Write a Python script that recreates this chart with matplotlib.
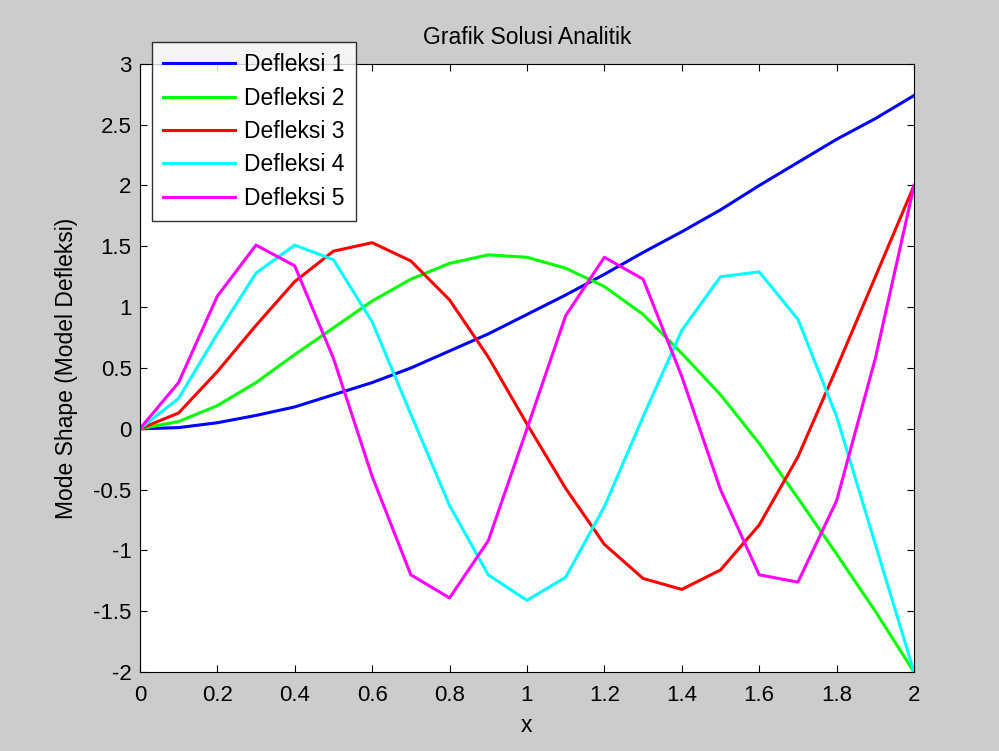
"""
Grafik solusi analitik - mode shape defleksi
"""
import matplotlib
matplotlib.use('Agg')
import matplotlib.pyplot as plt

plt.rcParams['font.family'] = ['Liberation Sans', 'DejaVu Sans']

# data
x = [0, 0.1, 0.2, 0.3, 0.4, 0.5, 0.6, 0.7, 0.8, 0.9, 1.0,
     1.1, 1.2, 1.3, 1.4, 1.5, 1.6, 1.7, 1.8, 1.9, 2.0]
defleksi1 = [0, 0.01, 0.05, 0.11, 0.18, 0.28, 0.38, 0.50, 0.64, 0.78, 0.94,
             1.10, 1.27, 1.45, 1.62, 1.80, 2.00, 2.19, 2.38, 2.55, 2.74]
defleksi2 = [0, 0.06, 0.19, 0.38, 0.61, 0.83, 1.05, 1.23, 1.36, 1.43, 1.41,
             1.32, 1.17, 0.94, 0.62, 0.28, -0.12, -0.57, -1.03, -1.5, -2.0]
defleksi3 = [0, 0.13, 0.47, 0.85, 1.21, 1.46, 1.53, 1.38, 1.06, 0.59, 0.04,
             -0.49, -0.95, -1.23, -1.32, -1.16, -0.79, -0.23, 0.5, 1.25, 2.0]
defleksi4 = [0, 0.25, 0.78, 1.28, 1.51, 1.39, 0.88, 0.12, -0.63, -1.2, -1.41,
             -1.22, -0.64, 0.1, 0.81, 1.25, 1.29, 0.9, 0.1, -0.95, -2.0]
defleksi5 = [0, 0.38, 1.09, 1.51, 1.34, 0.58, -0.39, -1.2, -1.39, -0.92, 0.0,
             0.93, 1.41, 1.23, 0.43, -0.5, -1.2, -1.26, -0.59, 0.58, 2.0]

series = [defleksi1, defleksi2, defleksi3, defleksi4, defleksi5]
labels = ['Defleksi 1', 'Defleksi 2', 'Defleksi 3', 'Defleksi 4', 'Defleksi 5']
colors = ['#0000ff', '#00ff00', '#ff0000', '#00ffff', '#ff00ff']

fig = plt.figure(figsize=(9.99, 7.51), dpi=100, facecolor='#cccccc')
ax = fig.add_axes([0.140, 0.105, 0.775, 0.810])
ax.set_facecolor('white')

for y, lab, c in zip(series, labels, colors):
    ax.plot(x, y, color=c, lw=2.2, label=lab)

ax.set_xlim(0, 2)
ax.set_ylim(-2, 3)
ax.set_xticks([0, 0.2, 0.4, 0.6, 0.8, 1, 1.2, 1.4, 1.6, 1.8, 2])
ax.set_xticklabels(['0', '0.2', '0.4', '0.6', '0.8', '1', '1.2', '1.4', '1.6', '1.8', '2'])
ax.set_yticks([-2, -1.5, -1, -0.5, 0, 0.5, 1, 1.5, 2, 2.5, 3])
ax.set_yticklabels(['-2', '-1.5', '-1', '-0.5', '0', '0.5', '1', '1.5', '2', '2.5', '3'])
ax.tick_params(direction='in', top=True, right=True, length=5, width=0.8,
               labelsize=16)
ax.tick_params(axis='x', pad=9)
ax.tick_params(axis='y', pad=6)
for s in ax.spines.values():
    s.set_linewidth(0.8)

ax.set_title('Grafik Solusi Analitik', fontsize=16.5, pad=14)
ax.set_xlabel('x', fontsize=16.5, labelpad=6)
ax.set_ylabel('Mode Shape (Model Defleksi)', fontsize=16.5, labelpad=11)

leg = fig.legend(loc='upper left', bbox_to_anchor=(152 / 999, 1 - 42 / 751),
                 fontsize=16.5, frameon=True, fancybox=False, handlelength=3.1,
                 handletextpad=0.4, labelspacing=0.45, borderpad=0.5,
                 borderaxespad=0)
leg.get_frame().set_edgecolor('black')
leg.get_frame().set_linewidth(1.0)

plt.savefig('out.png', dpi=100, facecolor=fig.get_facecolor())
plt.close()
